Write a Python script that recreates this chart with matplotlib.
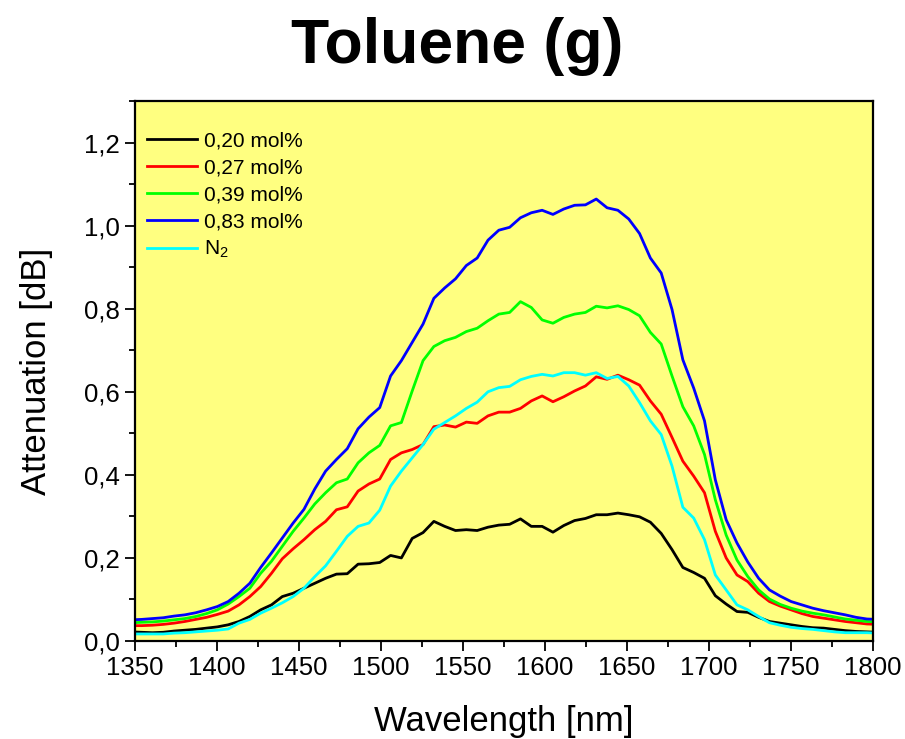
import matplotlib
matplotlib.use("Agg")
import matplotlib.pyplot as plt
from matplotlib.ticker import MultipleLocator, FuncFormatter

plt.rcParams['font.family'] = ['Liberation Sans', 'DejaVu Sans']
plt.rcParams['mathtext.default'] = 'regular'

# Comprimentos de onda (nm)
wavelength = [1347.5, 1354.1, 1360.7, 1367.3, 1373.9, 1380.5, 1387.1, 1393.7, 1400.3, 1406.9,
              1413.5, 1420.1, 1426.7, 1433.3, 1439.9, 1446.5, 1453.1, 1459.7, 1466.3, 1472.9,
              1479.5, 1486.1, 1492.7, 1499.3, 1505.9, 1512.5, 1519.1, 1525.7, 1532.3, 1538.9,
              1545.5, 1552.1, 1558.7, 1565.3, 1571.9, 1578.5, 1585.1, 1591.7, 1598.3, 1604.9,
              1611.5, 1618.1, 1624.7, 1631.3, 1637.9, 1644.5, 1651.1, 1657.7, 1664.3, 1670.9,
              1677.5, 1684.1, 1690.7, 1697.3, 1703.9, 1710.5, 1717.1, 1723.7, 1730.3, 1736.9,
              1743.5, 1750.1, 1756.7, 1763.3, 1769.9, 1776.5, 1783.1, 1789.7, 1796.3, 1802.9]

# Atenuação (dB) para cada concentração
att_020 = [0.022, 0.021, 0.020, 0.021, 0.024, 0.026, 0.028, 0.031, 0.034, 0.039,
           0.047, 0.059, 0.075, 0.087, 0.107, 0.115, 0.127, 0.139, 0.151, 0.161,
           0.162, 0.185, 0.186, 0.189, 0.206, 0.200, 0.247, 0.261, 0.288, 0.276,
           0.266, 0.268, 0.266, 0.274, 0.279, 0.281, 0.294, 0.276, 0.276, 0.262,
           0.278, 0.290, 0.295, 0.304, 0.304, 0.308, 0.304, 0.299, 0.286, 0.259,
           0.220, 0.177, 0.165, 0.151, 0.109, 0.089, 0.071, 0.069, 0.057, 0.047,
           0.043, 0.039, 0.035, 0.032, 0.031, 0.028, 0.025, 0.023, 0.022, 0.021]

att_027 = [0.037, 0.037, 0.038, 0.040, 0.043, 0.047, 0.052, 0.057, 0.064, 0.072,
           0.087, 0.107, 0.131, 0.163, 0.198, 0.222, 0.244, 0.268, 0.288, 0.316,
           0.323, 0.361, 0.378, 0.390, 0.437, 0.453, 0.461, 0.473, 0.516, 0.520,
           0.515, 0.527, 0.524, 0.542, 0.551, 0.551, 0.560, 0.578, 0.590, 0.576,
           0.588, 0.602, 0.614, 0.636, 0.630, 0.640, 0.629, 0.616, 0.578, 0.546,
           0.490, 0.433, 0.397, 0.357, 0.264, 0.200, 0.159, 0.143, 0.115, 0.095,
           0.084, 0.075, 0.066, 0.059, 0.055, 0.051, 0.047, 0.044, 0.041, 0.040]

att_039 = [0.044, 0.045, 0.046, 0.048, 0.051, 0.054, 0.059, 0.066, 0.075, 0.089,
           0.107, 0.127, 0.163, 0.192, 0.228, 0.264, 0.296, 0.330, 0.357, 0.381,
           0.390, 0.429, 0.453, 0.471, 0.518, 0.526, 0.602, 0.675, 0.709, 0.723,
           0.731, 0.745, 0.753, 0.771, 0.787, 0.791, 0.817, 0.803, 0.773, 0.765,
           0.779, 0.787, 0.791, 0.806, 0.802, 0.807, 0.798, 0.783, 0.743, 0.715,
           0.638, 0.564, 0.518, 0.449, 0.340, 0.255, 0.195, 0.155, 0.123, 0.101,
           0.088, 0.079, 0.072, 0.067, 0.063, 0.058, 0.053, 0.050, 0.047, 0.046]

att_083 = [0.051, 0.052, 0.054, 0.056, 0.060, 0.063, 0.068, 0.075, 0.083, 0.095,
           0.115, 0.139, 0.177, 0.212, 0.248, 0.284, 0.317, 0.366, 0.409, 0.437,
           0.463, 0.511, 0.539, 0.562, 0.638, 0.675, 0.719, 0.763, 0.825, 0.850,
           0.872, 0.904, 0.922, 0.965, 0.989, 0.996, 1.019, 1.031, 1.037, 1.027,
           1.040, 1.049, 1.050, 1.064, 1.043, 1.037, 1.016, 0.981, 0.922, 0.886,
           0.798, 0.677, 0.609, 0.530, 0.388, 0.292, 0.236, 0.190, 0.151, 0.123,
           0.108, 0.095, 0.087, 0.079, 0.073, 0.068, 0.063, 0.057, 0.053, 0.052]

att_n2 = [0.017, 0.017, 0.017, 0.017, 0.019, 0.020, 0.022, 0.024, 0.026, 0.029,
          0.043, 0.052, 0.067, 0.079, 0.092, 0.107, 0.127, 0.155, 0.181, 0.216,
          0.252, 0.276, 0.284, 0.315, 0.373, 0.409, 0.441, 0.473, 0.510, 0.526,
          0.542, 0.560, 0.575, 0.600, 0.610, 0.613, 0.629, 0.637, 0.642, 0.638,
          0.646, 0.646, 0.640, 0.646, 0.632, 0.637, 0.614, 0.574, 0.530, 0.497,
          0.421, 0.322, 0.296, 0.244, 0.159, 0.123, 0.087, 0.075, 0.059, 0.044,
          0.038, 0.033, 0.030, 0.028, 0.025, 0.022, 0.020, 0.020, 0.020, 0.019]

series = [
    (att_020, "0,20 mol%", "#000000"),
    (att_027, "0,27 mol%", "#FF0000"),
    (att_039, "0,39 mol%", "#00FF00"),
    (att_083, "0,83 mol%", "#0000FF"),
    (att_n2, "N$_2$", "#00FFFF"),
]

fig = plt.figure(figsize=(9.05, 7.39), dpi=100)
ax = fig.add_axes([0.149, 0.1326, 0.8156, 0.7307])
ax.set_facecolor("#FFFF80")

for valores, rotulo, cor in series:
    ax.plot(wavelength, valores, color=cor, lw=2.0, label=rotulo)

ax.set_xlim(1350, 1800)
ax.set_ylim(0, 1.3)
ax.xaxis.set_major_locator(MultipleLocator(50))
ax.xaxis.set_minor_locator(MultipleLocator(25))
ax.yaxis.set_major_locator(MultipleLocator(0.2))
ax.yaxis.set_minor_locator(MultipleLocator(0.1))
ax.yaxis.set_major_formatter(FuncFormatter(lambda v, p: f"{v:.1f}".replace(".", ",")))

ax.tick_params(which="major", direction="out", length=7, width=1.3, labelsize=18.5, pad=4)
ax.tick_params(which="minor", direction="out", length=4, width=1.3)
for s in ax.spines.values():
    s.set_linewidth(1.6)

ax.set_xlabel("Wavelength [nm]", fontsize=25, labelpad=18)
ax.set_ylabel("Attenuation [dB]", fontsize=25, labelpad=22)
fig.text(0.505, 0.937, "Toluene (g)", fontsize=45, fontweight="bold", ha="center", va="center")

ax.legend(loc="upper left", bbox_to_anchor=(0.016, 0.944), frameon=False, fontsize=15,
          handlelength=2.4, handletextpad=0.35, labelspacing=0.38,
          borderpad=0, borderaxespad=0)

fig.savefig("out.png", dpi=100)
